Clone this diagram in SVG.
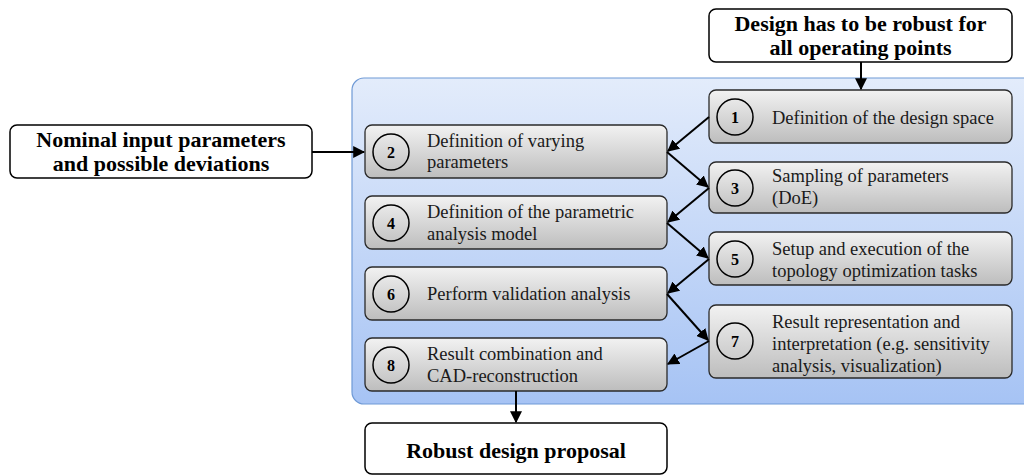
<svg xmlns="http://www.w3.org/2000/svg" width="1024" height="475" viewBox="0 0 1024 475">
  <defs>
    <linearGradient id="panelFill" x1="0" y1="0" x2="0" y2="1">
      <stop offset="0" stop-color="#e3ecfb"/>
      <stop offset="1" stop-color="#a6c3f4"/>
    </linearGradient>
    <linearGradient id="stepFill" x1="0" y1="0" x2="0" y2="1">
      <stop offset="0" stop-color="#f2f2f2"/>
      <stop offset="1" stop-color="#bdbdbd"/>
    </linearGradient>
    <marker id="arrow" viewBox="0 0 10 10" refX="9" refY="5" markerWidth="6" markerHeight="6" orient="auto" markerUnits="strokeWidth">
      <path d="M0,0 L10,5 L0,10 z" fill="#000"/>
    </marker>
  </defs>
  <style>
    .step { fill: url(#stepFill); stroke: #2a2a2a; stroke-width: 1.3; }
    .io { fill: #fff; stroke: #000; stroke-width: 1.5; }
    .num { fill: none; stroke: #000; stroke-width: 1.5; }
    .numtxt { font-family: "Liberation Serif", "Times New Roman", serif; font-size: 16px; font-weight: bold; text-anchor: middle; fill: #000; }
    .label { font-family: "Liberation Serif", "Times New Roman", serif; font-size: 18.5px; fill: #1a1a1a; }
    .head { font-family: "Liberation Serif", "Times New Roman", serif; font-size: 22px; font-weight: bold; text-anchor: middle; fill: #000; }
    .conn { stroke: #000; stroke-width: 2; fill: none; marker-end: url(#arrow); }
  </style>

  <!-- process panel -->
  <rect id="panel" x="352" y="78" width="690" height="326" rx="12" fill="url(#panelFill)" stroke="#6f9ad6" stroke-width="1.2"/>

  <g id="requirement">
    <rect class="io" x="709" y="9" width="303" height="53" rx="7"/>
    <text class="head" x="860.5" y="31">Design has to be robust for</text>
    <text class="head" x="860.5" y="55">all operating points</text>
  </g>

  <g id="inputs">
    <rect class="io" x="10" y="125" width="302" height="53" rx="7"/>
    <text class="head" x="161" y="147">Nominal input parameters</text>
    <text class="head" x="161" y="171">and possible deviations</text>
  </g>

  <g id="result">
    <rect class="io" x="365" y="423" width="302" height="51" rx="7"/>
    <text class="head" x="516" y="458">Robust design proposal</text>
  </g>

  <g id="step1">
    <rect class="step" x="709" y="90" width="303" height="53" rx="7"/>
    <circle class="num" cx="735" cy="117" r="18"/>
    <text class="numtxt" x="735" y="122.5">1</text>
    <text class="label" x="772" y="124">Definition of the design space</text>
  </g>

  <g id="step2">
    <rect class="step" x="365" y="125" width="302" height="53" rx="7"/>
    <circle class="num" cx="391" cy="152" r="18"/>
    <text class="numtxt" x="391" y="157.5">2</text>
    <text class="label" x="427" y="147">Definition of varying</text>
    <text class="label" x="427" y="168">parameters</text>
  </g>

  <g id="step3">
    <rect class="step" x="709" y="162" width="303" height="51" rx="7"/>
    <circle class="num" cx="735" cy="188" r="18"/>
    <text class="numtxt" x="735" y="193.5">3</text>
    <text class="label" x="772" y="182">Sampling of parameters</text>
    <text class="label" x="772" y="204">(DoE)</text>
  </g>

  <g id="step4">
    <rect class="step" x="365" y="196" width="302" height="53" rx="7"/>
    <circle class="num" cx="391" cy="223" r="18"/>
    <text class="numtxt" x="391" y="228.5">4</text>
    <text class="label" x="427" y="218">Definition of the parametric</text>
    <text class="label" x="427" y="240">analysis model</text>
  </g>

  <g id="step5">
    <rect class="step" x="709" y="232" width="303" height="53" rx="7"/>
    <circle class="num" cx="735" cy="259" r="18"/>
    <text class="numtxt" x="735" y="264.5">5</text>
    <text class="label" x="772" y="255">Setup and execution of the</text>
    <text class="label" x="772" y="277">topology optimization tasks</text>
  </g>

  <g id="step6">
    <rect class="step" x="365" y="267" width="302" height="53" rx="7"/>
    <circle class="num" cx="391" cy="294" r="18"/>
    <text class="numtxt" x="391" y="299.5">6</text>
    <text class="label" x="427" y="300">Perform validation analysis</text>
  </g>

  <g id="step7">
    <rect class="step" x="709" y="305" width="303" height="73" rx="7"/>
    <circle class="num" cx="735" cy="341" r="18"/>
    <text class="numtxt" x="735" y="346.5">7</text>
    <text class="label" x="772" y="328">Result representation and</text>
    <text class="label" x="772" y="350">interpretation (e.g. sensitivity</text>
    <text class="label" x="772" y="372">analysis, visualization)</text>
  </g>

  <g id="step8">
    <rect class="step" x="365" y="338" width="302" height="53" rx="7"/>
    <circle class="num" cx="391" cy="365" r="18"/>
    <text class="numtxt" x="391" y="370.5">8</text>
    <text class="label" x="427" y="360">Result combination and</text>
    <text class="label" x="427" y="382">CAD-reconstruction</text>
  </g>

  <g id="connectors">
    <line class="conn" x1="861" y1="62" x2="861" y2="89"/>
    <line class="conn" x1="312" y1="152" x2="364" y2="152"/>
    <line class="conn" x1="516" y1="391" x2="516" y2="422"/>
    <line class="conn" x1="709" y1="117" x2="668" y2="151"/>
    <line class="conn" x1="667" y1="152" x2="708" y2="187"/>
    <line class="conn" x1="709" y1="188" x2="668" y2="222"/>
    <line class="conn" x1="667" y1="223" x2="708" y2="258"/>
    <line class="conn" x1="709" y1="259" x2="668" y2="293"/>
    <line class="conn" x1="667" y1="294" x2="708" y2="340"/>
    <line class="conn" x1="709" y1="341" x2="668" y2="364"/>
  </g>
</svg>
